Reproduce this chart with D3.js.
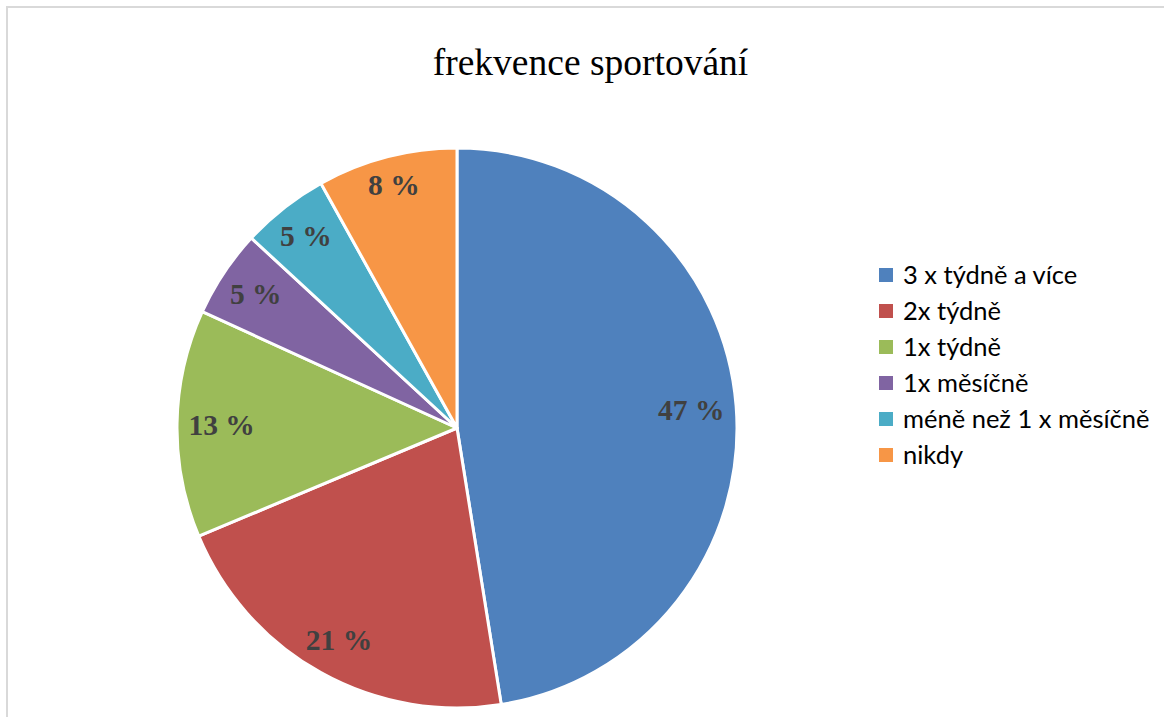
<!DOCTYPE html>
<html>
<head>
<meta charset="utf-8">
<script src="https://cdn.jsdelivr.net/npm/d3@7"></script>
<style>
  html, body { margin: 0; padding: 0; background: #fff; }
  svg { display: block; }
</style>
</head>
<body>
<svg id="chart" width="1164" height="717"></svg>
<script>
const title = "frekvence sportování";
const categories = ["3 x týdně a více", "2x týdně", "1x týdně", "1x měsíčně", "méně než 1 x měsíčně", "nikdy"];
const counts = [94, 42, 26, 10, 10, 16];
const colors = ["#4F81BD", "#C0504D", "#9BBB59", "#8064A2", "#4BACC6", "#F79646"];

const svg = d3.select("#chart");
const W = 1164, H = 717;

// chart frame
svg.append("path")
  .attr("d", `M7,${H + 5} L7,7 L${W + 5},7`)
  .attr("fill", "none")
  .attr("stroke", "#d9d9d9")
  .attr("stroke-width", 2);

// title
svg.append("text")
  .attr("x", 590.5)
  .attr("y", 75)
  .attr("text-anchor", "middle")
  .attr("font-family", "'Liberation Serif', 'Times New Roman', serif")
  .attr("font-size", 37.5)
  .attr("fill", "#000")
  .text(title);

const cx = 457, cy = 428, R = 280;
const total = d3.sum(counts);
const data = categories.map((c, i) => ({ name: c, value: counts[i], color: colors[i] }));

const pie = d3.pie().value(d => d.value).sort(null);
const arc = d3.arc().innerRadius(0).outerRadius(R);
const arcs = pie(data);

const g = svg.append("g").attr("transform", `translate(${cx},${cy})`);

g.selectAll("path.slice")
  .data(arcs)
  .enter().append("path")
  .attr("class", "slice")
  .attr("d", arc)
  .attr("fill", d => d.data.color)
  .attr("stroke", "#fff")
  .attr("stroke-width", 3)
  .attr("stroke-linejoin", "round");

// labels placed "inside end"
const fs = 29.5;
const labels = g.selectAll("text.lbl")
  .data(arcs)
  .enter().append("text")
  .attr("class", "lbl")
  .attr("text-anchor", "middle")
  .attr("font-family", "'Liberation Serif', 'Times New Roman', serif")
  .attr("font-weight", "bold")
  .attr("font-size", fs)
  .attr("fill", "#404040")
  .text(d => Math.round(d.data.value / total * 100) + " %");

labels.each(function(d) {
  const w = this.getComputedTextLength();
  const h = fs * 0.7;
  const a = (d.startAngle + d.endAngle) / 2;
  const ux = Math.sin(a), uy = -Math.cos(a);
  const target = R - 11;
  let lo = 0, hi = R;
  for (let k = 0; k < 40; k++) {
    const m = (lo + hi) / 2;
    const x = m * ux + Math.sign(ux) * w / 2;
    const y = m * uy + Math.sign(uy) * h / 2;
    if (Math.hypot(x, y) > target) hi = m; else lo = m;
  }
  const px = lo * ux, py = lo * uy;
  d3.select(this).attr("x", px).attr("y", py + h / 2);
});

// legend
const legend = svg.append("g").attr("transform", "translate(879,275)");
const rowH = 36;
const items = legend.selectAll("g.item")
  .data(data)
  .enter().append("g")
  .attr("class", "item")
  .attr("transform", (d, i) => `translate(0,${i * rowH})`);

items.append("rect")
  .attr("x", 0).attr("y", -7)
  .attr("width", 14).attr("height", 14)
  .attr("fill", d => d.color);

items.append("text")
  .attr("x", 24)
  .attr("y", 8.5)
  .attr("font-family", "Lato, 'Noto Sans', sans-serif")
  .attr("font-size", 25.5)
  .attr("fill", "#000")
  .text(d => d.name);
</script>
</body>
</html>
